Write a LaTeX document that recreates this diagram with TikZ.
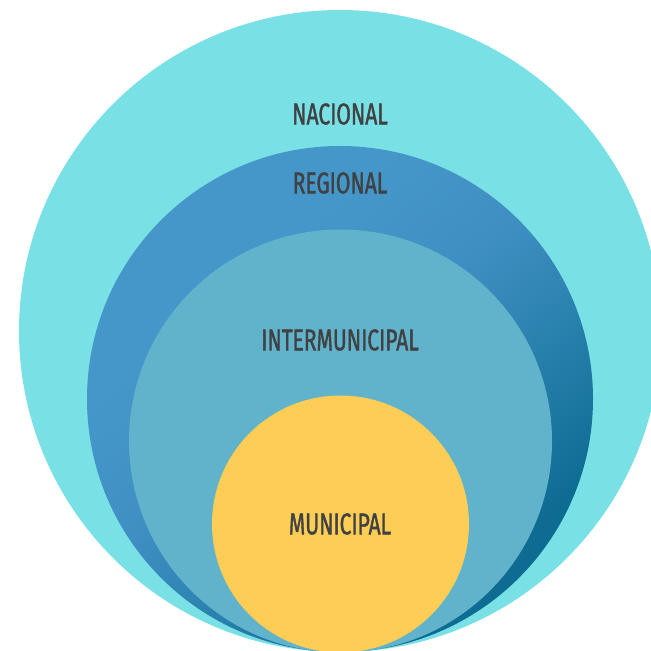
\documentclass[tikz,border=0pt]{standalone}
\usepackage{fontspec}
\newfontfamily\labelfont[FakeStretch=0.7,FakeBold=1.2]{Fira Sans}
\definecolor{nacional}{HTML}{79E1E6}
\definecolor{regtop}{HTML}{4597CA}
\definecolor{reglight}{HTML}{408FC3}
\definecolor{regmid}{HTML}{2A82AF}
\definecolor{regbot}{HTML}{0E6C93}
\definecolor{intermun}{HTML}{61B2CB}
\definecolor{municipal}{HTML}{FECD55}
\definecolor{labelgray}{HTML}{404143}
\pgfdeclareverticalshading{regshade}{100bp}{color(0bp)=(regbot); color(28bp)=(regbot); color(42bp)=(regmid); color(53bp)=(reglight); color(66bp)=(regtop); color(100bp)=(regtop)}
\tikzset{
  levellabel/.style={font=\labelfont\fontsize{30}{30}\selectfont, text=labelgray, inner sep=0pt}
}
\begin{document}
\begin{tikzpicture}[x=1pt,y=-1pt]
    \useasboundingbox (0,0) rectangle (651,651);
    \clip (0,0) rectangle (651,651);
    \fill[nacional] (340,331) circle (321);
    \shade[shading=regshade, shading angle=40] (340,399) circle (253);
    \fill[intermun] (340.5,441) circle (211.5);
    \fill[municipal] (340.5,524) circle (128.5);

    \node[levellabel] (nac) at (340,114) {NACIONAL};
    \node[levellabel] (reg) at (340,183) {REGIONAL};
    \node[levellabel] (inter) at (340,340) {INTERMUNICIPAL};
    \node[levellabel] (mun) at (340,524) {MUNICIPAL};
  \end{tikzpicture}
\end{document}
